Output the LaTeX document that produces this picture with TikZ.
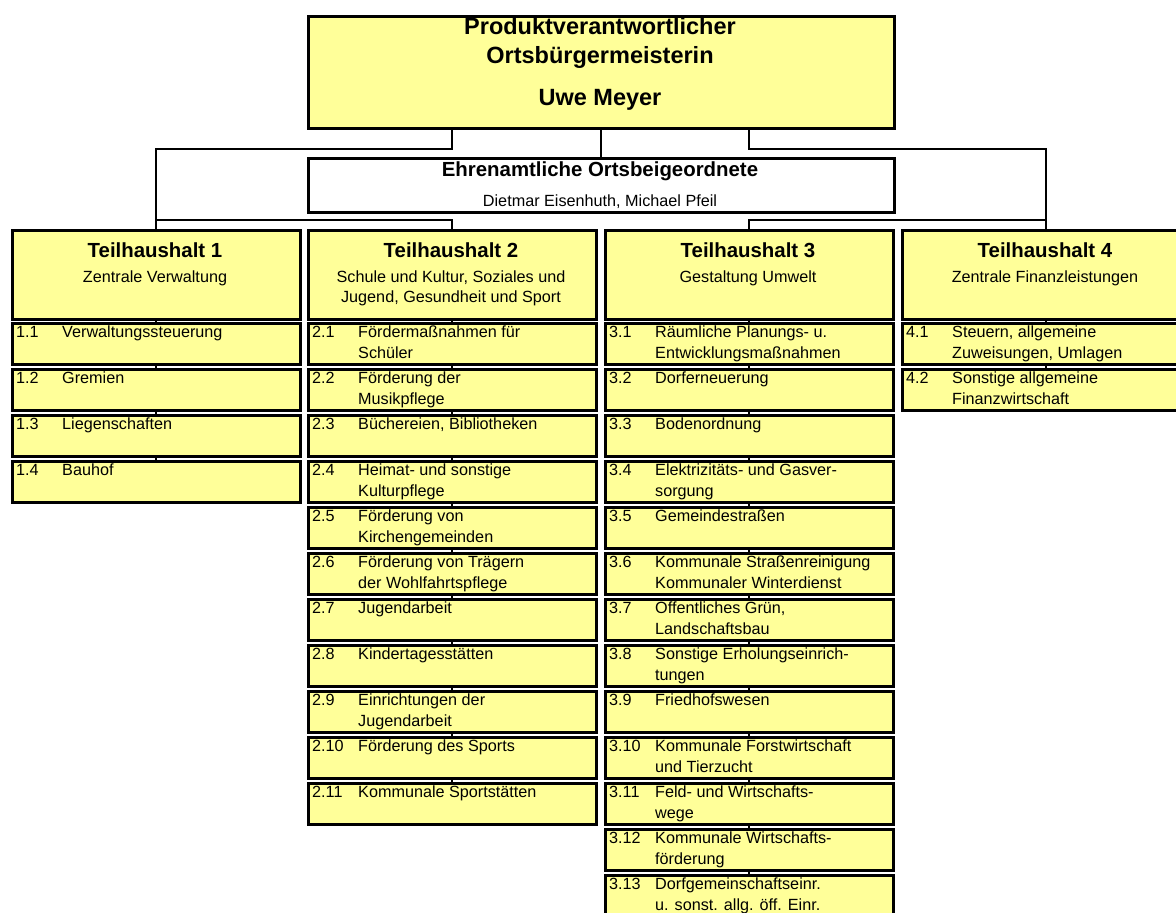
\documentclass[tikz,border=0pt]{standalone}
\usepackage{fontspec}
\setmainfont{Liberation Sans}
\usetikzlibrary{backgrounds}
\definecolor{gelb}{HTML}{FFFF99}
\tikzset{
  kasten/.style={draw, line width=2.5pt, inner sep=0pt, anchor=north west},
  kopf/.style={kasten, fill=gelb, minimum width=288pt, minimum height=89pt},
  posten/.style={kasten, fill=gelb, minimum width=288pt, minimum height=41pt},
  linie/.style={line width=2pt},
  txt/.style={inner sep=0pt, anchor=base west, font=\fontsize{16.2}{19}\selectfont},
  mitte/.style={inner sep=0pt, anchor=base, font=\fontsize{16.2}{19}\selectfont},
  titel/.style={inner sep=0pt, anchor=base, font=\bfseries\fontsize{20.4}{24}\selectfont},
  grosstitel/.style={inner sep=0pt, anchor=base, font=\bfseries\fontsize{23.5}{27}\selectfont},
}
% one column of product boxes: name, left edge, list nr/line1/line2
\newcommand{\postenliste}[3]{%
  \foreach \nr/\za/\zb [count=\i from 0] in {#3} {
    \node[posten] (#1-\i) at (#2,322+46*\i) {};
    \node[txt] at (#2+5,337+46*\i) {\nr};
    \node[txt] at (#2+51,337+46*\i) {\za};
    \node[txt] at (#2+51,358+46*\i) {\zb};
  }}

\begin{document}
\begin{tikzpicture}[x=1pt,y=-1pt]
\useasboundingbox (0,0) rectangle (1176,913);

% Head of the chart
\node[kasten, fill=gelb, minimum width=586pt, minimum height=112pt] (chef) at (307,15) {};
\node[grosstitel] at (600,34) {Produktverantwortlicher};
\node[grosstitel] at (600,63) {Ortsbürgermeisterin};
\node[grosstitel] at (600,105) {Uwe Meyer};

% Deputies
\node[kasten, fill=white, minimum width=586pt, minimum height=54pt] (beig) at (307,157) {};
\node[titel] at (600,176) {Ehrenamtliche Ortsbeigeordnete};
\node[mitte] at (600,206) {Dietmar Eisenhuth, Michael Pfeil};

% Column headers
\foreach \k/\x in {1/11,2/307,3/604,4/901} {
  \node[kopf] (th\k) at (\x,229) {};
  \node[titel] at (\x+144,257) {Teilhaushalt \k};
}
\node[mitte] at (155,282) {Zentrale Verwaltung};
\node[mitte] at (451,282) {Schule und Kultur, Soziales und};
\node[mitte] at (451,302) {Jugend, Gesundheit und Sport};
\node[mitte] at (748,282) {Gestaltung Umwelt};
\node[mitte] at (1045,282) {Zentrale Finanzleistungen};

% Products
\postenliste{th1}{11}{1.1/Verwaltungssteuerung/{}, 1.2/Gremien/{},
  1.3/Liegenschaften/{}, 1.4/Bauhof/{}}
\postenliste{th2}{307}{2.1/Fördermaßnahmen für/Schüler,
  2.2/Förderung der/Musikpflege, 2.3/{Büchereien, Bibliotheken}/{},
  2.4/Heimat- und sonstige/Kulturpflege, 2.5/Förderung von/Kirchengemeinden,
  2.6/Förderung von Trägern/der Wohlfahrtspflege, 2.7/Jugendarbeit/{},
  2.8/Kindertagesstätten/{}, 2.9/Einrichtungen der/Jugendarbeit,
  2.10/Förderung des Sports/{}, 2.11/Kommunale Sportstätten/{}}
\postenliste{th3}{604}{3.1/Räumliche Planungs- u./Entwicklungsmaßnahmen,
  3.2/Dorferneuerung/{}, 3.3/Bodenordnung/{},
  3.4/Elektrizitäts- und Gasver-/sorgung, 3.5/Gemeindestraßen/{},
  3.6/Kommunale Straßenreinigung/Kommunaler Winterdienst,
  3.7/{Öffentliches Grün,}/Landschaftsbau,
  3.8/Sonstige Erholungseinrich-/tungen, 3.9/Friedhofswesen/{},
  3.10/Kommunale Forstwirtschaft/und Tierzucht,
  3.11/Feld- und Wirtschafts-/wege, 3.12/Kommunale Wirtschafts-/förderung,
  3.13/Dorfgemeinschaftseinr./u. sonst. allg. öff. Einr.}
\postenliste{th4}{901}{4.1/{Steuern, allgemeine}/{Zuweisungen, Umlagen},
  4.2/Sonstige allgemeine/Finanzwirtschaft}

% Connectors behind the boxes
\begin{pgfonlayer}{background}
  \draw[linie] (chef.south -| th2.north) -- ++(0,19) -| (th1.north);
  \draw[linie] (chef.south -| th3.north) -- ++(0,19) -| (th4.north);
  \draw[linie] (chef.south) -- (beig.north);
  \draw[linie] (th1.north) ++(0,-9) -| (th2.north);
  \draw[linie] (th4.north) ++(0,-9) -| (th3.north);
  \draw[linie] (th1.south) -- (th1-3.north);
  \draw[linie] (th2.south) -- (th2-10.north);
  \draw[linie] (th3.south) -- (th3-12.north);
  \draw[linie] (th4.south) -- (th4-1.north);
\end{pgfonlayer}

\end{tikzpicture}
\end{document}
